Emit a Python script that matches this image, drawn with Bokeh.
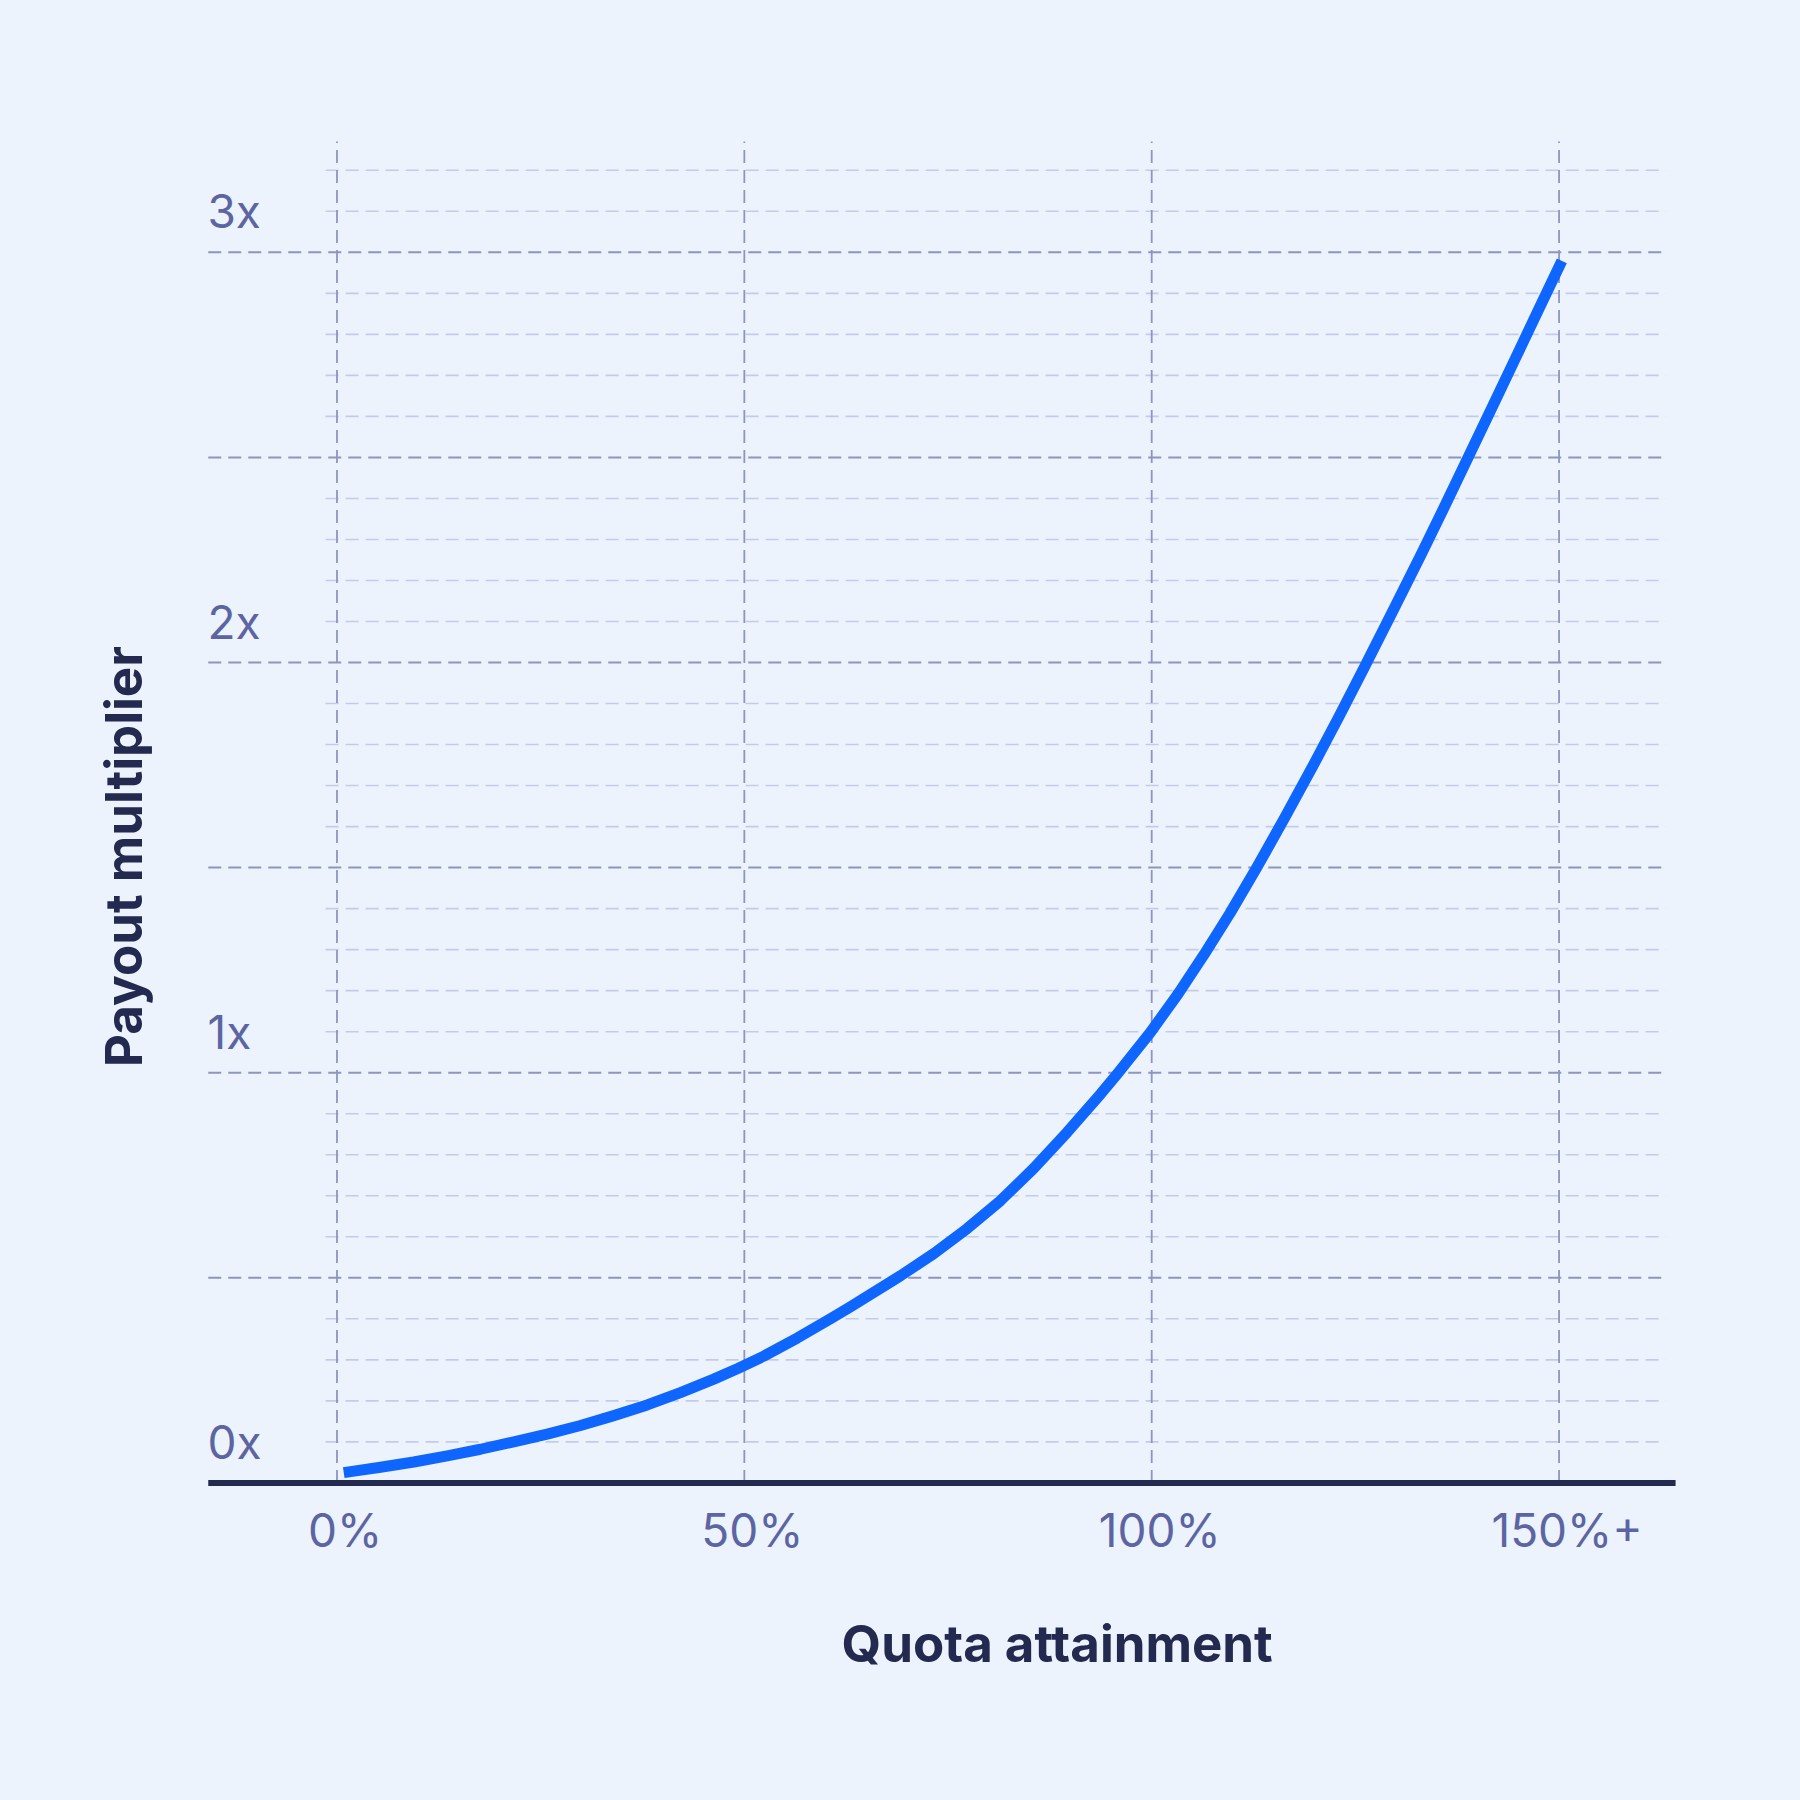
import numpy as np

from bokeh.core.properties import value
from bokeh.embed import file_html
from bokeh.models import Range1d, GlobalInlineStyleSheet
from bokeh.plotting import figure
from bokeh.resources import INLINE

# payout curve (quota attainment in %, payout multiplier)
quota = [0.83, 5.34, 9.43, 13.53, 17.61, 21.70, 25.80, 29.89, 33.98, 38.08, 42.16, 46.25,
         49.20, 52.39, 56.49, 60.57, 62.94, 69.17, 73.25, 77.35, 81.44, 85.53, 89.63, 93.72,
         95.77, 99.83, 103.23, 106.43, 109.62, 112.81, 116.28, 119.74, 122.93, 126.12,
         129.58, 133.04, 135.96, 138.88, 141.82, 144.75, 147.67, 150.34]
payout = [0.025, 0.038, 0.051, 0.066, 0.082, 0.100, 0.119, 0.140, 0.164, 0.190, 0.220, 0.253,
          0.279, 0.309, 0.353, 0.400, 0.428, 0.505, 0.559, 0.620, 0.688, 0.767, 0.855, 0.948,
          0.997, 1.098, 1.192, 1.288, 1.389, 1.497, 1.620, 1.746, 1.866, 1.989,
          2.125, 2.262, 2.381, 2.502, 2.624, 2.746, 2.868, 2.979]

x_ticks = [0, 50, 100, 150]
x_tick_labels = ["0%", "50%", "100%", "150%+"]
y_ticks = [0, 1, 2, 3]
y_tick_labels = ["0x", "1x", "2x", "3x"]

# dashed guide lines: the darker ones every half step, light ones every tenth
major_lines = [0.5, 1.0, 1.5, 2.0, 2.5, 3.0]
minor_lines = [0.1, 0.2, 0.3, 0.4, 0.6, 0.7, 0.8, 0.9, 1.1, 1.2, 1.3, 1.4, 1.6, 1.7, 1.8, 1.9,
               2.1, 2.2, 2.3, 2.4, 2.6, 2.7, 2.8, 2.9, 3.1, 3.2]

BG = "#ecf3fd"
DARK = "#23294f"
TICK_COLOR = "#5c65a2"
FONT = value("Inter")

p = figure(
    width=1784, height=1784,
    x_range=Range1d(-41.30, 177.67),
    y_range=Range1d(-0.7353, 3.6139),
    x_axis_type=None, y_axis_type=None,
    output_backend="svg", toolbar_location=None,
    min_border=0,
    background_fill_color=BG, border_fill_color=BG,
    outline_line_color=None,
)
p.grid.visible = False
p.stylesheets = [GlobalInlineStyleSheet(css="body { background-color: %s; }" % BG)]

# grid
p.segment(x0=-1.4, y0=minor_lines, x1=163.1, y1=minor_lines,
          line_color="#c4cbe8", line_width=1.6, line_dash="13 7")
p.segment(x0=-15.8, y0=major_lines, x1=163.4, y1=major_lines,
          line_color="#8e95c0", line_width=2, line_dash="13 7")
p.segment(x0=x_ticks, y0=0, x1=x_ticks, y1=3.27,
          line_color="#8e95c0", line_width=1.8, line_dash="13 7")

# baseline
p.segment(x0=-15.8, y0=0, x1=164.3, y1=0, line_color=DARK, line_width=6)

# curve
p.line(quota, payout, line_color="#0f66ff", line_width=11, line_join="round")

# tick labels
p.text(x=-15.9, y=y_ticks, text=y_tick_labels, text_font=FONT, text_font_size="46px",
       text_color=TICK_COLOR, text_align="left", text_baseline="alphabetic", y_offset=-41)
p.text(x=x_ticks, y=0, text=x_tick_labels, text_font=FONT, text_font_size="46px",
       text_color=TICK_COLOR, text_align="center", text_baseline="alphabetic",
       x_offset=8, y_offset=47)

# axis titles
p.text(x=[88.4], y=[0], text=["Quota attainment"], text_font=FONT, text_font_size="51px",
       text_font_style="bold", text_color=DARK, text_align="center",
       text_baseline="alphabetic", y_offset=161)
p.text(x=[-26.2], y=[1.527], text=["Payout multiplier"], angle=np.pi / 2, text_font=FONT,
       text_font_size="51px", text_font_style="bold", text_color=DARK,
       text_align="center", text_baseline="alphabetic")

open("out.html", "w").write(file_html(p, INLINE))
